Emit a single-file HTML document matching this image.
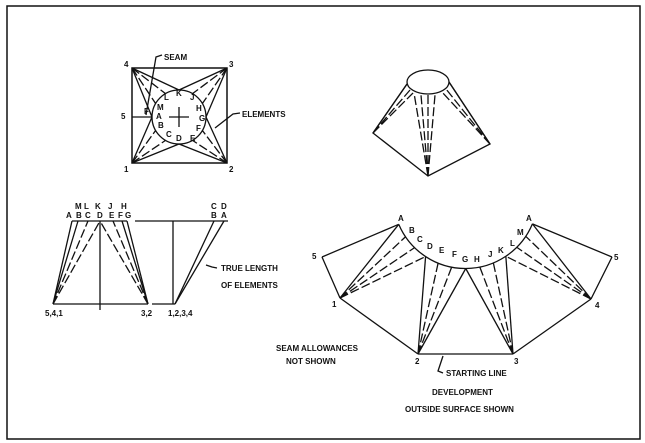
<!DOCTYPE html>
<html><head><meta charset="utf-8"><style>
html,body{margin:0;padding:0;background:#fff;}
svg{display:block;}
text{font-family:"Liberation Sans",sans-serif;font-size:8px;font-weight:bold;fill:#111;}
</style></head><body>
<svg id="s" width="645" height="443" viewBox="0 0 645 443" xmlns="http://www.w3.org/2000/svg" stroke="#111" fill="none" stroke-width="1.3">
<rect x="7" y="6" width="633" height="433" stroke-width="1.5"/>
<!-- top view -->
<rect x="132" y="68" width="95" height="95" stroke-width="1.5"/>
<circle cx="179" cy="117" r="27"/>
<line x1="169" y1="117" x2="189" y2="117"/><line x1="179" y1="107" x2="179" y2="127"/>
<line x1="132" y1="117" x2="152" y2="117"/>
<polyline points="146,115 156,57 162,55"/>
<polyline points="215,128 233,114 240,113"/>
<g id="tv"></g>
<!-- cone -->
<ellipse cx="428" cy="82" rx="21" ry="12"/>
<polyline points="407,84 373,133 428,176 490,144 449,82"/>
<g id="cone"></g>
<!-- elevation -->
<line x1="72" y1="221" x2="127" y2="221"/>
<line x1="53" y1="304" x2="148" y2="304"/>
<line x1="100" y1="221" x2="100" y2="310"/>
<line x1="135" y1="221" x2="228" y2="221"/>
<line x1="173" y1="221" x2="173" y2="304"/>
<line x1="152" y1="304" x2="175" y2="304"/>
<line x1="175" y1="304" x2="214" y2="221"/>
<line x1="175" y1="304" x2="224" y2="221"/>
<polyline points="206,265 212,267 217,268"/>
<g id="el"></g>
<!-- development -->
<path id="arc" d=""/>
<g id="dev"></g>
<polyline points="443,356 438,371 443,373"/>
<g stroke="none">
<text x="164" y="60">SEAM</text>
<text x="242" y="117">ELEMENTS</text>
<text x="124" y="67">4</text><text x="229" y="67">3</text>
<text x="124" y="172">1</text><text x="229" y="172">2</text>
<text x="121" y="119">5</text>
<text x="144" y="114">F</text>
<text x="157" y="110">M</text><text x="164" y="100">L</text><text x="176" y="96">K</text><text x="190" y="100">J</text>
<text x="196" y="111">H</text><text x="199" y="121">G</text><text x="196" y="131">F</text><text x="190" y="141">E</text>
<text x="176" y="141">D</text><text x="166" y="137">C</text><text x="158" y="128">B</text><text x="156" y="119">A</text>
<text x="75" y="209">M</text><text x="84" y="209">L</text><text x="95" y="209">K</text><text x="108" y="209">J</text><text x="121" y="209">H</text>
<text x="66" y="218">A</text><text x="76" y="218">B</text><text x="85" y="218">C</text><text x="97" y="218">D</text><text x="109" y="218">E</text><text x="118" y="218">F</text><text x="125" y="218">G</text>
<text x="211" y="209">C</text><text x="221" y="209">D</text><text x="211" y="218">B</text><text x="221" y="218">A</text>
<text x="221" y="271">TRUE LENGTH</text><text x="221" y="288">OF ELEMENTS</text>
<text x="45" y="316">5,4,1</text><text x="141" y="316">3,2</text><text x="168" y="316">1,2,3,4</text>
<text x="398" y="221">A</text><text x="409" y="233">B</text><text x="417" y="242">C</text><text x="427" y="249">D</text><text x="439" y="253">E</text><text x="452" y="257">F</text><text x="462" y="262">G</text><text x="474" y="262">H</text><text x="488" y="257">J</text><text x="498" y="253">K</text><text x="510" y="246">L</text><text x="517" y="235">M</text><text x="526" y="221">A</text>
<text x="312" y="259">5</text><text x="332" y="307">1</text><text x="415" y="364">2</text><text x="514" y="364">3</text><text x="595" y="308">4</text><text x="614" y="260">5</text>
<text x="276" y="351">SEAM ALLOWANCES</text><text x="286" y="364">NOT SHOWN</text>
<text x="446" y="376">STARTING LINE</text>
<text x="432" y="395">DEVELOPMENT</text>
<text x="405" y="412">OUTSIDE SURFACE SHOWN</text>
</g>
</svg>
<script>
(function(){
var NS="http://www.w3.org/2000/svg";
function L(g,x1,y1,x2,y2,d){var l=document.createElementNS(NS,"line");l.setAttribute("x1",x1);l.setAttribute("y1",y1);l.setAttribute("x2",x2);l.setAttribute("y2",y2);if(d)l.setAttribute("stroke-dasharray","9,3");document.getElementById(g).appendChild(l);}
var cx=179,cy=117,r=27,pts=[];
for(var k=0;k<12;k++){var a=(180-30*k)*Math.PI/180;pts.push([cx+r*Math.cos(a),cy+r*Math.sin(a)]);}
var C1=[132,163],C2=[227,163],C3=[227,68],C4=[132,68];
function P(i){return pts[i%12];}
[[C1,[0,1,2,3]],[C2,[3,4,5,6]],[C3,[6,7,8,9]],[C4,[9,10,11,12]]].forEach(function(q){q[1].forEach(function(i,j){var p=P(i);L("tv",q[0][0],q[0][1],p[0],p[1],j>0&&j<3);});});
[[373,133,[[407,84,0],[410,90,1],[413,93,1]]],[428,176,[[414,93,1],[421,95,1],[428,95,1],[435,95,1]]],[490,144,[[449,82,0],[446,89,1],[442,92,1]]]].forEach(function(q){q[2].forEach(function(p){L("cone",q[0],q[1],p[0],p[1],p[2]);});});
var tp=[72,78,88,100,113,122,127];
[0,1,2,3].forEach(function(i){L("el",53,304,tp[i],221,i>=2);});
[3,4,5,6].forEach(function(i){L("el",148,304,tp[i],221,i==4||i==3);});
var dcx=465.5,dcy=196,dr=72.5,dp=[];
for(var k=0;k<13;k++){var a=(157-11.2*k)*Math.PI/180;dp.push([dcx+dr*Math.cos(a),dcy+dr*Math.sin(a)]);}
document.getElementById("arc").setAttribute("d","M"+dp[0][0]+","+dp[0][1]+" A"+dr+","+dr+" 0 0,0 "+dp[12][0]+","+dp[12][1]);
var v1=[340,298],v2=[418,354],v3=[513,354],v4=[591,299];
[[322,257,dp[0][0],dp[0][1]],[322,257,340,298],[340,298,418,354],[418,354,513,354],[513,354,591,299],[591,299,612,257],[612,257,dp[12][0],dp[12][1]]].forEach(function(s){L("dev",s[0],s[1],s[2],s[3],false);});
[[v1,[0,1,2,3],[0]],[v2,[3,4,5,6],[3,6]],[v3,[6,7,8,9],[6,9]],[v4,[9,10,11,12],[12]]].forEach(function(q){q[1].forEach(function(i){L("dev",q[0][0],q[0][1],dp[i][0],dp[i][1],q[2].indexOf(i)<0);});});
})();
</script>
</body></html>
